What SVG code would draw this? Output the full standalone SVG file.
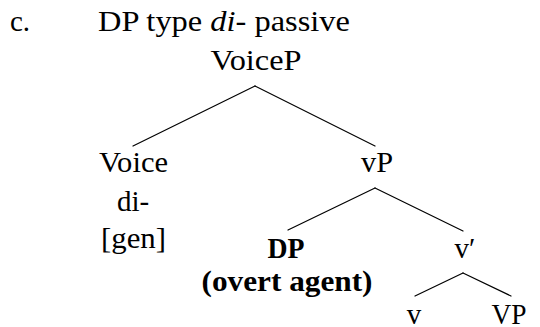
<svg xmlns="http://www.w3.org/2000/svg" width="540" height="327" viewBox="0 0 540 327" font-family="Liberation Serif">
  <style>
    text { font-family: "Liberation Serif", Tinos, "Times New Roman", serif; font-size: 29px; fill: #000; }
    .mid { text-anchor: middle; }
    .bold { font-weight: bold; }
    .edge { stroke: #000; stroke-width: 1.2; fill: none; stroke-linecap: round; }
  </style>
  <rect width="540" height="327" fill="#fff"/>

  <!-- example label and title -->
  <g id="title">
    <text x="10" y="31">c.</text>
    <text x="98" y="31" textLength="252" lengthAdjust="spacingAndGlyphs">DP type <tspan font-style="italic">di</tspan>- passive</text>
  </g>

  <!-- tree branches -->
  <g id="connectors">
    <line class="edge" x1="255" y1="86" x2="133" y2="146"/>
    <line class="edge" x1="255" y1="86" x2="375" y2="146"/>
    <line class="edge" x1="375" y1="188" x2="288" y2="230"/>
    <line class="edge" x1="375" y1="188" x2="463" y2="231"/>
    <line class="edge" x1="463" y1="273" x2="415" y2="296"/>
    <line class="edge" x1="463" y1="273" x2="511" y2="296"/>
  </g>

  <g id="node-VoiceP">
    <text class="mid" x="256" y="70" textLength="91" lengthAdjust="spacingAndGlyphs">VoiceP</text>
  </g>
  <g id="node-Voice">
    <text class="mid" x="133.5" y="172" textLength="69" lengthAdjust="spacingAndGlyphs">Voice</text>
    <text class="mid" x="133" y="211">di-</text>
    <text class="mid" x="133.5" y="248" textLength="65" lengthAdjust="spacingAndGlyphs">[gen]</text>
  </g>
  <g id="node-vP">
    <text class="mid" x="377" y="172" textLength="32" lengthAdjust="spacingAndGlyphs">vP</text>
  </g>
  <g id="node-DP">
    <text class="mid bold" x="286" y="258" textLength="37" lengthAdjust="spacingAndGlyphs">DP</text>
    <text class="mid bold" x="287" y="291" textLength="171" lengthAdjust="spacingAndGlyphs">(overt agent)</text>
  </g>
  <g id="node-vbar">
    <text class="mid" x="465" y="258">v&#8242;</text>
  </g>
  <g id="node-v">
    <text class="mid" x="414" y="324">v</text>
  </g>
  <g id="node-VP">
    <text class="mid" x="509" y="324" textLength="35" lengthAdjust="spacingAndGlyphs">VP</text>
  </g>
</svg>
